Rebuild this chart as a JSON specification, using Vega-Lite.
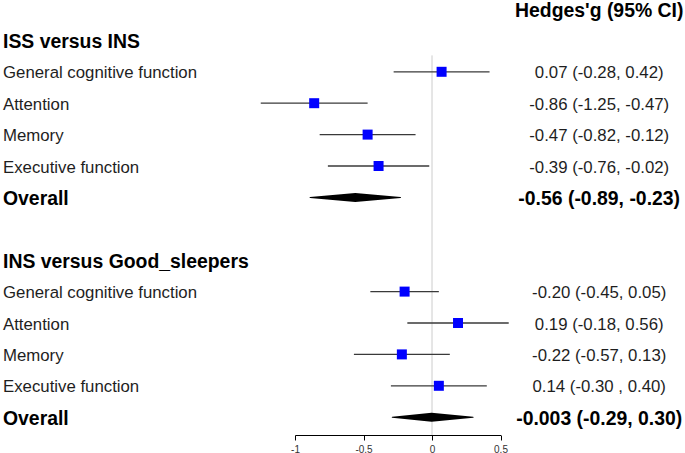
{
  "$schema": "https://vega.github.io/schema/vega-lite/v6.json",
  "padding": 0,
  "bounds": "flush",
  "spacing": 20,
  "config": {"view": {"stroke": null}, "font": "Liberation Sans"},
  "datasets": {
    "rows": [
      {"key": "hdr", "type": "header", "label": "", "ci": "Hedges'g (95% CI)"},
      {"key": "t1", "type": "title", "label": "ISS versus INS", "ci": ""},
      {"key": "a1", "type": "item", "label": "General cognitive function", "g": 0.07, "lo": -0.28, "hi": 0.42, "ci": "0.07 (-0.28, 0.42)"},
      {"key": "a2", "type": "item", "label": "Attention", "g": -0.86, "lo": -1.25, "hi": -0.47, "ci": "-0.86 (-1.25, -0.47)"},
      {"key": "a3", "type": "item", "label": "Memory", "g": -0.47, "lo": -0.82, "hi": -0.12, "ci": "-0.47 (-0.82, -0.12)"},
      {"key": "a4", "type": "item", "label": "Executive function", "g": -0.39, "lo": -0.76, "hi": -0.02, "ci": "-0.39 (-0.76, -0.02)"},
      {"key": "o1", "type": "overall", "label": "Overall", "g": -0.56, "lo": -0.89, "hi": -0.23, "ci": "-0.56 (-0.89, -0.23)"},
      {"key": "gap", "type": "blank", "label": "", "ci": ""},
      {"key": "t2", "type": "title", "label": "INS versus Good_sleepers", "ci": ""},
      {"key": "b1", "type": "item", "label": "General cognitive function", "g": -0.20, "lo": -0.45, "hi": 0.05, "ci": "-0.20 (-0.45, 0.05)"},
      {"key": "b2", "type": "item", "label": "Attention", "g": 0.19, "lo": -0.18, "hi": 0.56, "ci": "0.19 (-0.18, 0.56)"},
      {"key": "b3", "type": "item", "label": "Memory", "g": -0.22, "lo": -0.57, "hi": 0.13, "ci": "-0.22 (-0.57, 0.13)"},
      {"key": "b4", "type": "item", "label": "Executive function", "g": 0.05, "lo": -0.30, "hi": 0.40, "ci": "0.14 (-0.30 , 0.40)"},
      {"key": "o2", "type": "overall", "label": "Overall", "g": -0.003, "lo": -0.29, "hi": 0.30, "ci": "-0.003 (-0.29, 0.30)"}
    ]
  },
  "hconcat": [
    {
      "width": 274.3,
      "height": 433,
      "data": {"name": "rows"},
      "layer": [
        {
          "transform": [{"filter": "datum.type === 'item'"}],
          "mark": {"type": "text", "align": "left", "baseline": "middle", "fontSize": 16.8, "color": "#1e1e1e", "dy": 1.5},
          "encoding": {
            "x": {"value": 3},
            "y": {"field": "key", "type": "nominal", "axis": null, "scale": {"type": "point", "domain": ["hdr","t1","a1","a2","a3","a4","o1","gap","t2","b1","b2","b3","b4","o2"], "range": [7, 415.2], "padding": 0}},
            "text": {"field": "label"}
          }
        },
        {
          "transform": [{"filter": "datum.type === 'title' || datum.type === 'overall'"}],
          "mark": {"type": "text", "align": "left", "baseline": "middle", "fontSize": 19.4, "fontWeight": "bold", "color": "#000000", "dy": 1.5},
          "encoding": {
            "x": {"value": 3},
            "y": {"field": "key", "type": "nominal", "axis": null, "scale": {"type": "point", "domain": ["hdr","t1","a1","a2","a3","a4","o1","gap","t2","b1","b2","b3","b4","o2"], "range": [7, 415.2], "padding": 0}},
            "text": {"field": "label"}
          }
        }
      ]
    },
    {
      "width": 205.5,
      "height": 433,
      "data": {"name": "rows"},
      "layer": [
        {
          "transform": [{"filter": "datum.key === 'hdr'"}],
          "mark": {"type": "rule", "color": "#cccccc", "strokeWidth": 1, "yOffset": 15, "y2Offset": 17.8},
          "encoding": {
            "x": {"datum": 0, "type": "quantitative", "scale": {"domain": [-1, 0.5], "nice": false, "zero": false}, "axis": {"values": [-1, -0.5, 0, 0.5], "grid": false, "title": null, "domainColor": "#000000", "tickColor": "#000000", "tickSize": 5, "labelFontSize": 10, "labelColor": "#333333", "labelPadding": 4, "labelFlush": false, "labelExpr": "toString(datum.value)"}},
            "y": {"datum": "t1", "type": "nominal", "axis": null, "scale": {"type": "point", "domain": ["hdr","t1","a1","a2","a3","a4","o1","gap","t2","b1","b2","b3","b4","o2"], "range": [7, 415.2], "padding": 0}},
            "y2": {"datum": "o2"}
          }
        },
        {
          "transform": [{"filter": "datum.type === 'item'"}],
          "mark": {"type": "rule", "color": "#3a3a3a", "strokeWidth": 1.3},
          "encoding": {
            "x": {"field": "lo", "type": "quantitative"},
            "x2": {"field": "hi"},
            "y": {"field": "key", "type": "nominal"}
          }
        },
        {
          "transform": [{"filter": "datum.type === 'item'"}],
          "mark": {"type": "point", "shape": "square", "filled": true, "color": "#0000ff", "size": 100, "opacity": 1},
          "encoding": {
            "x": {"field": "g", "type": "quantitative"},
            "y": {"field": "key", "type": "nominal"}
          }
        },
        {
          "transform": [{"filter": "datum.type === 'overall'"}, {"fold": ["lo", "g", "hi"], "as": ["k", "v"]}],
          "mark": {"type": "trail", "color": "#000000"},
          "encoding": {
            "x": {"field": "v", "type": "quantitative"},
            "y": {"field": "key", "type": "nominal"},
            "detail": {"field": "key"},
            "order": {"field": "v", "type": "quantitative"},
            "size": {"condition": {"test": "datum.k === 'g'", "value": 9}, "value": 0}
          }
        }
      ]
    },
    {
      "width": 156.4,
      "height": 433,
      "data": {"name": "rows"},
      "layer": [
        {
          "transform": [{"filter": "datum.type === 'item'"}],
          "mark": {"type": "text", "align": "center", "baseline": "middle", "fontSize": 16.8, "color": "#1e1e1e", "dy": 1.5},
          "encoding": {
            "y": {"field": "key", "type": "nominal", "axis": null, "scale": {"type": "point", "domain": ["hdr","t1","a1","a2","a3","a4","o1","gap","t2","b1","b2","b3","b4","o2"], "range": [7, 415.2], "padding": 0}},
            "text": {"field": "ci"}
          }
        },
        {
          "transform": [{"filter": "datum.type === 'overall' || datum.type === 'header'"}],
          "mark": {"type": "text", "align": "center", "baseline": "middle", "fontSize": 19.4, "fontWeight": "bold", "color": "#000000", "dy": 1.5},
          "encoding": {
            "y": {"field": "key", "type": "nominal", "axis": null, "scale": {"type": "point", "domain": ["hdr","t1","a1","a2","a3","a4","o1","gap","t2","b1","b2","b3","b4","o2"], "range": [7, 415.2], "padding": 0}},
            "text": {"field": "ci"}
          }
        }
      ]
    }
  ]
}
